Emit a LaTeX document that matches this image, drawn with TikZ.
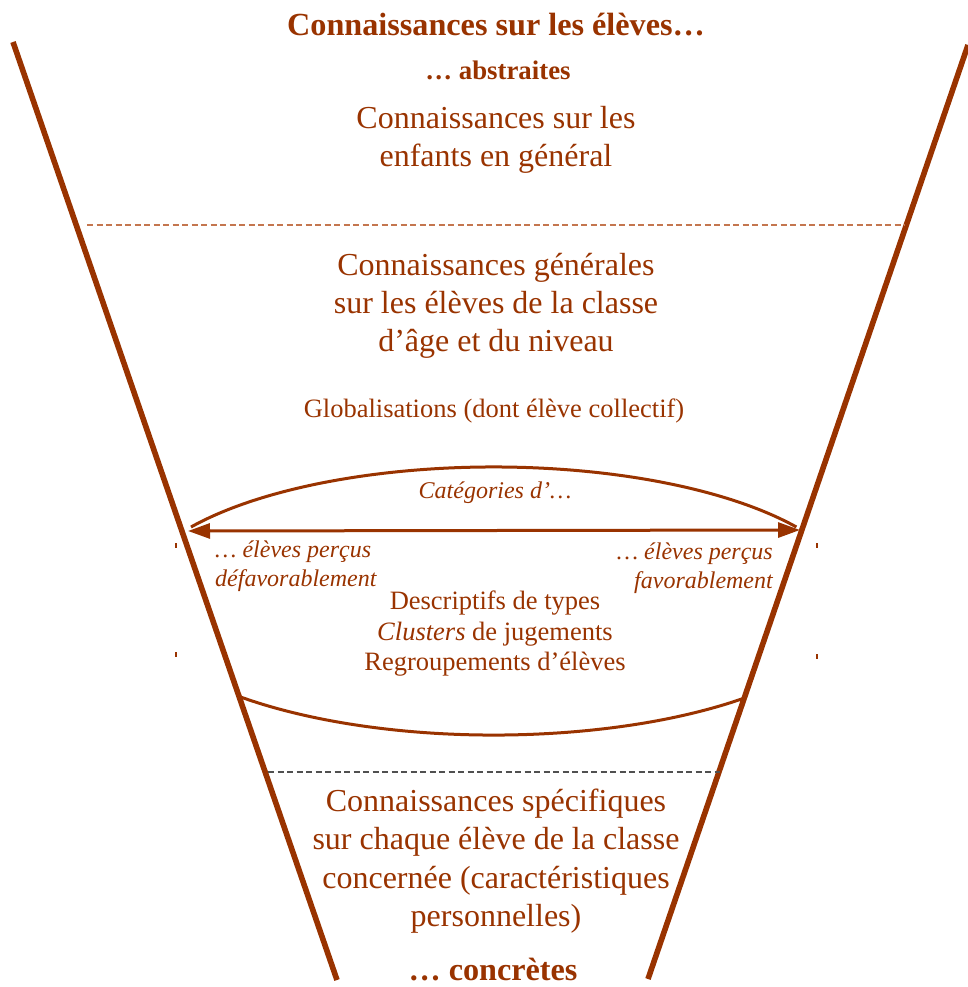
\documentclass[tikz,border=0pt]{standalone}
\usepackage{fontspec}
\setmainfont{Liberation Serif}
\usetikzlibrary{arrows.meta}
\definecolor{brun}{HTML}{993300}
\definecolor{brunclair}{HTML}{C4764F}
\definecolor{grisfonce}{HTML}{505050}
\begin{document}
\begin{tikzpicture}[x=1pt,y=-1pt,
  funnel/.style={draw=brun,line width=5.6pt},
  ellarc/.style={draw=brun,line width=3pt},
  sepa/.style={draw=brunclair,line width=1.3pt,dash pattern=on 6pt off 3.5pt},
  sepb/.style={draw=grisfonce,line width=1.3pt,dash pattern=on 6pt off 3.5pt},
  big/.style={text=brun,align=center,inner sep=0pt,font=\fontsize{32}{38.5}\selectfont},
  mid/.style={text=brun,align=center,inner sep=0pt,font=\fontsize{26.5}{30.5}\selectfont},
  lab/.style={text=brun,inner sep=0pt,font=\fontsize{24}{29}\selectfont\itshape},
  ttl/.style={text=brun,inner sep=0pt,font=\fontsize{32.2}{36}\selectfont\bfseries},
  tick/.style={draw=brun,line width=1.2pt},
  dbl/.style={draw=brun,line width=3pt,{Triangle[length=22pt,width=15pt]}-{Triangle[length=22pt,width=15pt]}},
]
\useasboundingbox (0,0) rectangle (968,987);
% funnel
\coordinate (LT) at (13,42);
\coordinate (LB) at (337,980);
\coordinate (RT) at (968,45);
\coordinate (RB) at (648,979);
\draw[funnel] (LT) -- (LB);
\draw[funnel] (RT) -- (RB);
% separators
\coordinate (S1L) at (87,225);
\coordinate (S1R) at (905,225);
\draw[sepa] (S1L) -- (S1R);
\coordinate (S2L) at (268,772);
\coordinate (S2R) at (720,772);
\draw[sepb] (S2L) -- (S2R);
% ellipse arcs
\coordinate (E1) at (191,527);
\draw[ellarc] (E1) arc[start angle=146.5,end angle=33.5,x radius=363pt,y radius=134pt];
\begin{scope}
  \clip (LT) -- (LB) -- (RB) -- (RT) -- cycle;
  \coordinate (E2) at (136.5,624.3);
  \draw[ellarc] (E2) arc[start angle=190,end angle=350,x radius=363pt,y radius=134pt];
\end{scope}
% arrow
\coordinate (AL) at (188,531);
\coordinate (AR) at (800,530);
\draw[dbl] (AL) -- (AR);
% ticks
\coordinate (K1) at (176,543); \coordinate (K1b) at (176,548);
\coordinate (K2) at (176,652); \coordinate (K2b) at (176,657);
\coordinate (K3) at (817,543); \coordinate (K3b) at (817,548);
\coordinate (K4) at (817,654); \coordinate (K4b) at (817,659);
\draw[tick] (K1) -- (K1b);
\draw[tick] (K2) -- (K2b);
\draw[tick] (K3) -- (K3b);
\draw[tick] (K4) -- (K4b);
% texts
\node[ttl] (title) at (496,25) {Connaissances sur les élèves…};
\node[text=brun,inner sep=0pt,font=\fontsize{26.8}{30}\selectfont\bfseries] (abs) at (498,70) {… abstraites};
\node[big] (t1) at (496,140) {Connaissances sur les\\enfants en général};
\node[big,font=\fontsize{32}{38}\selectfont] (t2) at (496,306) {Connaissances générales\\sur les élèves de la classe\\d’âge et du niveau};
\node[mid] (glob) at (494,411) {Globalisations (dont élève collectif)};
\node[lab] (cat) at (495,493) {Catégories d’…};
\node[lab,align=left,anchor=west] (def) at (215,566) {… élèves perçus\\défavorablement};
\node[lab,align=right,anchor=east] (fav) at (773,568) {… élèves perçus\\favorablement};
\node[mid] (desc) at (495,634) {Descriptifs de types\\\textit{Clusters} de jugements\\Regroupements d’élèves};
\node[big] (t3) at (496,861) {Connaissances spécifiques\\sur chaque élève de la classe\\concernée (caractéristiques\\personnelles)};
\node[ttl] (conc) at (493,970) {… concrètes};
\end{tikzpicture}
\end{document}
